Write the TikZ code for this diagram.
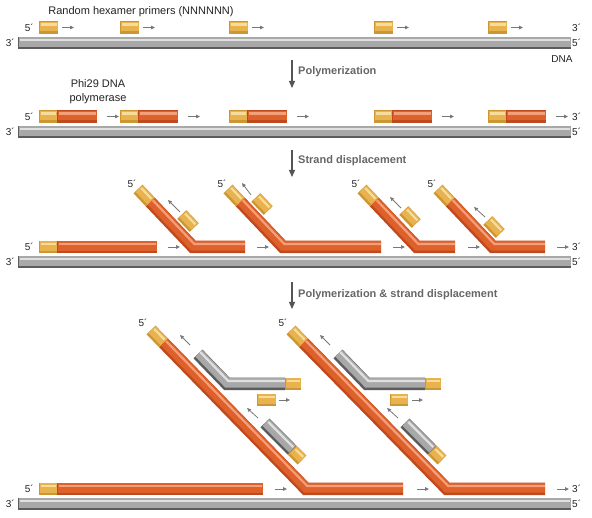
\documentclass[tikz,border=0pt]{standalone}
\usepackage{fontspec}
\setmainfont{Liberation Sans}
\usetikzlibrary{arrows.meta,calc}
\definecolor{Od}{HTML}{BF4A1D}
\definecolor{Om}{HTML}{DE602B}
\definecolor{Ol}{HTML}{F3A07A}
\definecolor{Yd}{HTML}{CC9633}
\definecolor{Ym}{HTML}{E8B24F}
\definecolor{Yl}{HTML}{F7DC9C}
\definecolor{Gd}{HTML}{5C5C5C}
\definecolor{Gm}{HTML}{A8A8A8}
\definecolor{Gl}{HTML}{E0E0E0}
\definecolor{steptext}{HTML}{666666}
\definecolor{arrowgray}{HTML}{555555}
\definecolor{smallarrow}{HTML}{777777}
\definecolor{labeltext}{HTML}{222222}
\newcommand\Rod[4]{%
  \draw[rodbase,#1d,line width=12.5pt] #4;
  \draw[rodbase,#1m,line width=9.5pt,shorten <=0.5pt,shorten >=0.5pt,transform canvas={shift={({#2},{#3})}}] #4;
  \draw[rodbase,#1l,line width=2.2pt,shorten <=1.5pt,shorten >=1.5pt,transform canvas={shift={({3*#2},{3*#3})}}] #4;
}
\begin{document}
\begin{tikzpicture}[x=1pt,y=-1pt,
  rodbase/.style={line join=miter,line cap=butt},
  sarr/.style={smallarrow,line width=0.8pt,-{Triangle[length=4pt,width=3.5pt]}},
  bigarr/.style={arrowgray,line width=1.3pt,-{Triangle[length=7pt,width=6pt]}},
  lbl/.style={text=labeltext,font=\fontsize{10}{12}\selectfont,inner sep=0pt},
  steplbl/.style={text=steptext,font=\fontsize{11}{13}\selectfont\bfseries,inner sep=0pt,anchor=west},
  title/.style={text=labeltext,font=\fontsize{11}{14}\selectfont,inner sep=0pt,align=center}]
\useasboundingbox (0,0) rectangle (592,518);

% ---------- Row 1 ----------
\node[title] (ttl) at (141,12) {Random hexamer primers (NNNNNN)};
\Rod{G}{0}{-1}{(18,43) -- (571,43)}
\foreach \a in {39,120,229,374,488} {
  \Rod{Y}{0}{-1}{(\a,27.5) -- (\a+19,27.5)}
  \draw[sarr] (\a+23,27.5) -- (\a+35,27.5);
}
\node[lbl,anchor=east] (r1a) at (34,28) {5´};
\node[lbl,anchor=east] (r1b) at (15,43) {3´};
\node[lbl,anchor=west] (r1c) at (572,28) {3´};
\node[lbl,anchor=west] (r1d) at (572,43) {5´};
\node[lbl] (dna) at (562,59) {DNA};

\draw[bigarr] (292,60) -- (292,88);
\node[steplbl] (s1) at (298,72) {Polymerization};

% ---------- Row 2 ----------
\node[title] (phi) at (98,91.5) {Phi29 DNA\\polymerase};
\Rod{G}{0}{-1}{(18,132) -- (571,132)}
\foreach \a in {39,120,229,374,488} {
  \Rod{O}{0}{-1}{(\a+18,116.5) -- (\a+58,116.5)}
  \Rod{Y}{0}{-1}{(\a,116.5) -- (\a+18,116.5)}
  \draw[sarr] (\a+68,116.5) -- (\a+80,116.5);
}
\node[lbl,anchor=east] (r2a) at (34,116.5) {5´};
\node[lbl,anchor=east] (r2b) at (15,132) {3´};
\node[lbl,anchor=west] (r2c) at (572,116.5) {3´};
\node[lbl,anchor=west] (r2d) at (572,132) {5´};

\draw[bigarr] (292,150) -- (292,177);
\node[steplbl] (s2) at (298,161) {Strand displacement};

% ---------- Row 3 ----------
\Rod{G}{0}{-1}{(18,262) -- (571,262)}
\Rod{O}{0}{-1}{(57,247) -- (157,247)}
\Rod{Y}{0}{-1}{(39,247) -- (57,247)}
\foreach \b/\h in {193/245,283/381,417/455,493/545} {
  \coordinate (E) at (\b-55,189);
  \coordinate (B) at (\b,247);
  \coordinate (H) at (\h,247);
  \coordinate (C) at ($(E)!18pt!(B)$);
  \Rod{O}{0.43}{-1}{(C) -- (B) -- (H)}
  \Rod{Y}{0.725}{-0.688}{(E) -- (C)}
  \node[lbl] at (\b-61,183.5) {5´};
}
\foreach \x/\y in {188/221,262/204,410/217,494/227} {
  \Rod{Y}{0.725}{-0.688}{(\x-6.2,\y-6.5) -- (\x+6.2,\y+6.5)}
}
\draw[sarr] (180,212) -- (168,200);
\draw[sarr] (251,195) -- (242,183);
\draw[sarr] (401,208) -- (390,197);
\draw[sarr] (485,217) -- (474,207);
\foreach \a in {168,257,393,468,557} {
  \draw[sarr] (\a,247) -- (\a+12,247);
}
\node[lbl,anchor=east] (r3a) at (34,247) {5´};
\node[lbl,anchor=east] (r3b) at (15,262) {3´};
\node[lbl,anchor=west] (r3c) at (572,247) {3´};
\node[lbl,anchor=west] (r3d) at (572,262) {5´};

\draw[bigarr] (292,282) -- (292,309);
\node[steplbl] (s3) at (298,295) {Polymerization \& strand displacement};

% ---------- Row 4 ----------
\Rod{G}{0}{-1}{(18,504) -- (571,504)}
\Rod{O}{0}{-1}{(57,489) -- (263,489)}
\Rod{Y}{0}{-1}{(39,489) -- (57,489)}
\foreach \e/\b/\h in {151/306/403,291/447/545} {
  \coordinate (E) at (\e,330);
  \coordinate (B) at (\b,489);
  \coordinate (H) at (\h,489);
  \coordinate (C) at ($(E)!18pt!(B)$);
  \Rod{O}{0.42}{-1}{(C) -- (B) -- (H)}
  \Rod{Y}{0.716}{-0.698}{(E) -- (C)}
  \node[lbl] at (\e-8,323) {5´};
}
% displaced, re-primed strands
\foreach \d in {0,140} {
  \Rod{G}{0.42}{-1}{(198+\d,354) -- (227+\d,384) -- (285+\d,384)}
  \Rod{Y}{0}{-1}{(285+\d,384) -- (301+\d,384)}
  \Rod{G}{0.716}{-0.698}{(265+\d,423) -- (292.2+\d,450.3)}
  \Rod{Y}{0.716}{-0.698}{(292.2+\d,450.3) -- (302+\d,460)}
  \draw[sarr] (190+\d,345) -- (180+\d,335);
  \draw[sarr] (258+\d,418) -- (247+\d,408);
}
\Rod{Y}{0}{-1}{(257,400) -- (276,400)}
\Rod{Y}{0}{-1}{(390,400) -- (408,400)}
\draw[sarr] (279,400) -- (290,400);
\draw[sarr] (412,400) -- (423,400);
\foreach \a in {275,417,557} {
  \draw[sarr] (\a,489) -- (\a+12,489);
}
\node[lbl,anchor=east] (r4a) at (34,489) {5´};
\node[lbl,anchor=east] (r4b) at (15,504) {3´};
\node[lbl,anchor=west] (r4c) at (572,489) {3´};
\node[lbl,anchor=west] (r4d) at (572,504) {5´};
\end{tikzpicture}
\end{document}
